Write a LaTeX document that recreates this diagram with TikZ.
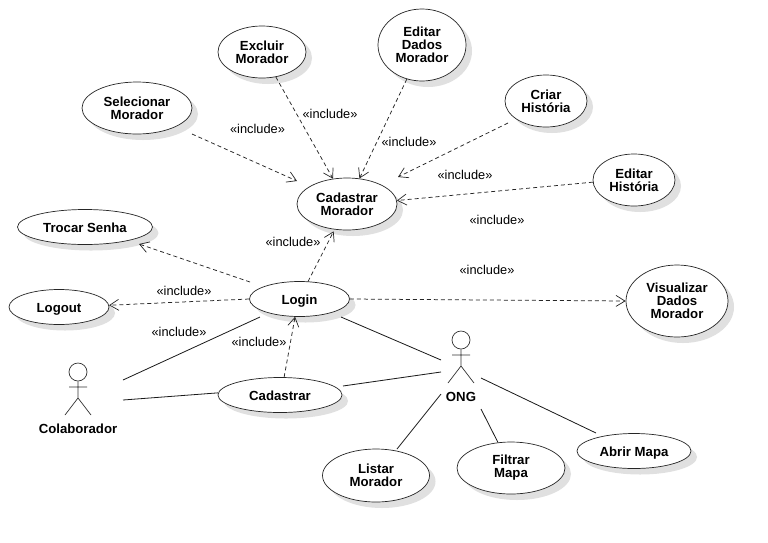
\documentclass[tikz,border=0pt]{standalone}
\usepackage{fontspec}
\setmainfont{Liberation Sans}
\usetikzlibrary{shapes.geometric,shadows,arrows.meta}
\tikzset{
  usecase/.style={ellipse,draw=black!85,fill=white,line width=0.7pt,inner sep=0pt,align=center,
    font=\fontsize{13.2}{13}\selectfont\bfseries,
    drop shadow={shadow xshift=6pt,shadow yshift=-6pt,fill=black!12,opacity=1}},
  usecaseone/.style={usecase,
    execute at begin node={\rule{0pt}{13pt}},
    execute at end node={\rule[-1.7pt]{0pt}{1.7pt}}},
  actorname/.style={font=\fontsize{13.2}{13}\selectfont\bfseries,inner sep=0pt},
  inc/.style={font=\fontsize{12.8}{13}\selectfont,inner sep=0pt},
  dep/.style={draw=black!85,line width=0.75pt,dash pattern=on 4pt off 3pt,-{Straight Barb[length=9pt,width=11pt,line width=0.7pt]}},
  assoc/.style={draw=black!90,line width=0.8pt},
  stick/.style={draw=black!80,line width=0.7pt},
}
\begin{document}
\begin{tikzpicture}[x=1pt,y=-1pt]
\fill[white] (0,0) rectangle (768,542);
\useasboundingbox (0,0) rectangle (768,542);
% use cases
\node[usecase,minimum width=110pt,minimum height=52pt] (sel) at (137,108) {Selecionar\\Morador};
\node[usecase,minimum width=88pt,minimum height=52pt] (exc) at (262,52) {Excluir\\Morador};
\node[usecase,minimum width=88pt,minimum height=72pt] (edd) at (422,45) {Editar\\Dados\\Morador};
\node[usecase,minimum width=82pt,minimum height=52pt] (cri) at (546,101) {Criar\\História};
\node[usecase,minimum width=82pt,minimum height=52pt] (edh) at (634,180) {Editar\\História};
\node[usecase,minimum width=100pt,minimum height=52pt] (cad) at (347,204) {Cadastrar\\Morador};
\node[usecaseone,minimum width=135pt,minimum height=35pt] (tro) at (85,227) {Trocar Senha};
\node[usecaseone,minimum width=100pt,minimum height=35pt] (lgo) at (59,307) {Logout};
\node[usecaseone,minimum width=100pt,minimum height=35pt] (log) at (299.5,299) {Login};
\node[usecaseone,minimum width=124pt,minimum height=35pt] (cdr) at (280,395) {Cadastrar};
\node[usecase,minimum width=102pt,minimum height=72pt] (vis) at (677,301) {Visualizar\\Dados\\Morador};
\node[usecase,minimum width=107pt,minimum height=53pt] (lis) at (376,475.5) {Listar\\Morador};
\node[usecase,minimum width=108pt,minimum height=52pt] (fil) at (511,468) {Filtrar\\Mapa};
\node[usecaseone,minimum width=114pt,minimum height=35pt] (abr) at (634,451) {Abrir Mapa};
% actors
\node[circle,stick,minimum size=18pt,inner sep=0pt] (colh) at (78,372) {};
\coordinate (colw) at (78,398);
\draw[stick] (colh.south) -- (colw) (69,387) -- (87,387) (65,415) -- (colw) -- (91,415);
\node[actorname] (col) at (78,429) {Colaborador};
\node[circle,stick,minimum size=18pt,inner sep=0pt] (ongh) at (461,340) {};
\coordinate (ongw) at (461,366);
\draw[stick] (ongh.south) -- (ongw) (452,355) -- (470,355) (448,383) -- (ongw) -- (474,383);
\node[actorname] (ong) at (461,397) {ONG};
% free connector ends
\coordinate (selout) at (192,134);
\coordinate (seltip) at (297,181);
\coordinate (criout) at (508,123);
\coordinate (critip) at (398,177);
\coordinate (trotip) at (139,244);
\coordinate (logtro) at (250,282);
\coordinate (colA) at (123,380);
\coordinate (colB) at (123,400);
\coordinate (logcol) at (260,317);
\coordinate (logong) at (341,317);
\coordinate (cdrong) at (343,386);
\coordinate (lisong) at (397,449);
\coordinate (abrong) at (596,433);
\coordinate (ongA) at (441,360);
\coordinate (ongB) at (441,372);
\coordinate (ongC) at (441,394);
\coordinate (ongD) at (481,409);
\coordinate (ongE) at (481,378);
% include dependencies
\draw[dep] (selout) -- (seltip);
\draw[dep] (exc.-61) -- (cad.119);
\draw[dep] (edd.-114.7) -- (cad.64);
\draw[dep] (criout) -- (critip);
\draw[dep] (edh.-177) -- (cad.4.5);
\draw[dep,shorten >=2pt] (log.64.7) -- (cad.-116.6);
\draw[dep] (logtro) -- (trotip);
\draw[dep] (log.180) -- (lgo.2);
\draw[dep] (cdr.77.5) -- (log.-104);
\draw[dep] (log.0) -- (vis.180);
% associations
\draw[assoc] (colA) -- (logcol);
\draw[assoc] (colB) -- (cdr.178);
\draw[assoc] (logong) -- (ongA);
\draw[assoc] (cdrong) -- (ongB);
\draw[assoc] (ongC) -- (lisong);
\draw[assoc] (ongD) -- (fil.117);
\draw[assoc] (ongE) -- (abrong);
% labels
\node[inc] (l1) at (257.5,129) {«include»};
\node[inc] (l2) at (330,114) {«include»};
\node[inc] (l3) at (409,142) {«include»};
\node[inc] (l4) at (465,175) {«include»};
\node[inc] (l5) at (497,220) {«include»};
\node[inc] (l6) at (487,270) {«include»};
\node[inc] (l7) at (293,242) {«include»};
\node[inc] (l8) at (184,291) {«include»};
\node[inc] (l9) at (179,332) {«include»};
\node[inc] (l10) at (259,342) {«include»};
\end{tikzpicture}
\end{document}
